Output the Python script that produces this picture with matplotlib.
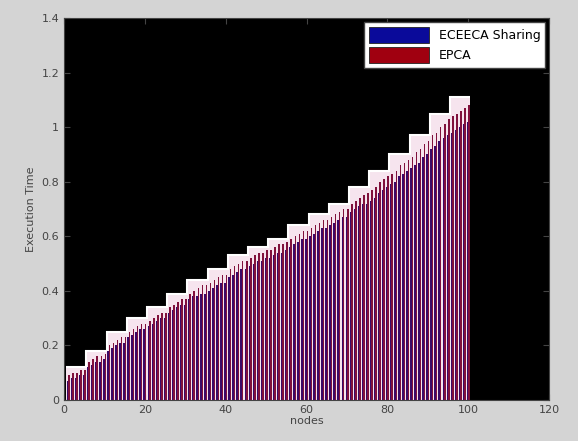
import numpy as np
import matplotlib
matplotlib.use('Agg')
import matplotlib.pyplot as plt

# data
nodes = np.arange(1, 101)
epca = [0.09, 0.10, 0.10, 0.11, 0.11, 0.14, 0.15, 0.16, 0.16, 0.17,
        0.20, 0.21, 0.22, 0.23, 0.23, 0.25, 0.26, 0.27, 0.28, 0.28,
        0.29, 0.30, 0.31, 0.32, 0.32, 0.34, 0.35, 0.36, 0.37, 0.37,
        0.39, 0.40, 0.41, 0.42, 0.42, 0.43, 0.44, 0.45, 0.46, 0.46,
        0.48, 0.49, 0.50, 0.51, 0.51, 0.52, 0.53, 0.54, 0.54, 0.55,
        0.55, 0.56, 0.57, 0.57, 0.58, 0.59, 0.60, 0.61, 0.62, 0.62,
        0.63, 0.64, 0.65, 0.66, 0.66, 0.67, 0.68, 0.69, 0.70, 0.70,
        0.72, 0.73, 0.74, 0.75, 0.76, 0.77, 0.78, 0.80, 0.81, 0.82,
        0.83, 0.84, 0.86, 0.87, 0.88, 0.89, 0.91, 0.92, 0.94, 0.95,
        0.97, 0.98, 1.00, 1.01, 1.03, 1.04, 1.05, 1.06, 1.07, 1.08]
eceeca = [0.07, 0.08, 0.08, 0.09, 0.09, 0.12, 0.13, 0.14, 0.14, 0.15,
          0.18, 0.19, 0.20, 0.21, 0.21, 0.23, 0.24, 0.25, 0.26, 0.26,
          0.27, 0.28, 0.29, 0.30, 0.30, 0.32, 0.33, 0.34, 0.35, 0.35,
          0.37, 0.38, 0.38, 0.39, 0.39, 0.40, 0.41, 0.42, 0.43, 0.43,
          0.45, 0.46, 0.47, 0.48, 0.48, 0.49, 0.50, 0.51, 0.51, 0.52,
          0.52, 0.53, 0.54, 0.54, 0.55, 0.56, 0.57, 0.58, 0.59, 0.59,
          0.60, 0.61, 0.62, 0.63, 0.63, 0.64, 0.65, 0.66, 0.67, 0.67,
          0.69, 0.70, 0.71, 0.72, 0.72, 0.73, 0.74, 0.76, 0.77, 0.78,
          0.79, 0.80, 0.82, 0.83, 0.84, 0.85, 0.86, 0.87, 0.89, 0.90,
          0.92, 0.93, 0.95, 0.96, 0.97, 0.98, 0.99, 1.00, 1.01, 1.02]
# white stepped band over the bars, one level per 5 nodes
step_levels = [0.12, 0.18, 0.25, 0.30, 0.34, 0.39, 0.44, 0.48, 0.53, 0.56,
               0.59, 0.64, 0.68, 0.72, 0.78, 0.84, 0.90, 0.97, 1.05, 1.11]

fig = plt.figure(figsize=(5.78, 4.41), dpi=100)
fig.patch.set_facecolor('#d4d4d4')
ax = fig.add_axes([0.111, 0.093, 0.839, 0.866])
ax.set_facecolor('black')

edges = np.arange(0.5, 101, 5)
ax.stairs(step_levels, edges, color='#f6e4ee', fill=True, zorder=1)
ax.stairs(step_levels, edges, color='white', linewidth=1.5, baseline=None,
          zorder=1)

w = 0.37
ax.bar(nodes - w / 2, eceeca, width=w, color='#3a0868', linewidth=0,
       label='ECEECA Sharing', zorder=2)
ax.bar(nodes + w / 2, epca, width=w, color='#80103c', linewidth=0,
       label='EPCA', zorder=2)

ax.set_xlim(0, 120)
ax.set_ylim(0, 1.4)
ax.set_xticks(np.arange(0, 121, 20))
ax.set_yticks(np.arange(0, 1.41, 0.2))
ax.set_yticklabels(['0', '0.2', '0.4', '0.6', '0.8', '1', '1.2', '1.4'])
ax.tick_params(direction='in', top=True, right=True, labelsize=8,
               colors='#444444', length=4)
for s in ax.spines.values():
    s.set_color('#444444')
ax.set_xlabel('nodes', fontsize=8, color='#444444', labelpad=1)
ax.set_ylabel('Execution Time', fontsize=8, color='#444444')

h, l = ax.get_legend_handles_labels()
leg = ax.legend(h, l, loc='upper right', fontsize=9, frameon=True,
                fancybox=False, edgecolor='#444444', facecolor='white',
                framealpha=1, handlelength=4.8, handleheight=1.6,
                borderaxespad=0.3, labelspacing=0.3)
leg.legend_handles[0].set_facecolor('#0a0a9a')
leg.legend_handles[1].set_facecolor('#a00010')
for p in leg.legend_handles:
    p.set_edgecolor('#222222')
    p.set_linewidth(0.6)

fig.savefig('out.png', dpi=100, facecolor=fig.get_facecolor())
